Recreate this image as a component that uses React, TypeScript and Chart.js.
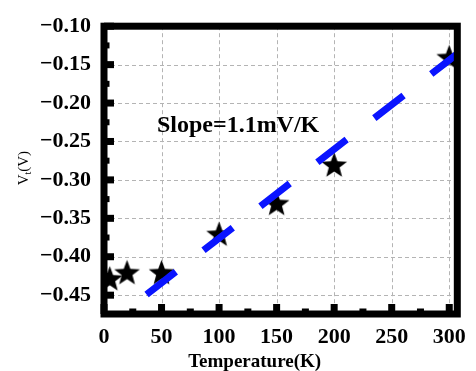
import React, { useEffect, useRef } from 'react';
import { Chart, registerables } from 'chart.js';

Chart.register(...registerables);

// ---- data ----
const temperatures = [5, 20, 50, 100, 150, 200, 300];
const thresholdVoltages = [-0.428, -0.42, -0.42, -0.37, -0.33, -0.28, -0.14];
const fitTemperatures = [37, 307];
const fitVoltages = [-0.449, -0.136];

const xMajorTicks = [0, 50, 100, 150, 200, 250, 300];
const xMinorTicks = [25, 75, 125, 175, 225, 275];
const xTickLabels = ['0', '50', '100', '150', '200', '250', '300'];
const yMajorTicks = [-0.45, -0.4, -0.35, -0.3, -0.25, -0.2, -0.15, -0.1];
const yMinorTicks = [-0.425, -0.375, -0.325, -0.275, -0.225, -0.175, -0.125];
const yTickLabels = ['−0.45', '−0.40', '−0.35', '−0.30', '−0.25', '−0.20', '−0.15', '−0.10'];

const X_MIN = 0;
const X_MAX = 307;
const Y_MIN = -0.4745;
const Y_MAX = -0.1;

const xTitle = 'Temperature(K)';
const slopeText = 'Slope=1.1mV/K';
const slopeAt = [46, -0.23];

const SERIF = '"Liberation Serif", "Times New Roman", serif';

function makeStar(R: number, ratio: number) {
  const size = Math.ceil(R * 2 + 2);
  const c = document.createElement('canvas');
  c.width = size;
  c.height = size;
  const g = c.getContext('2d')!;
  const cx = size / 2;
  const cy = size / 2 + R * 0.1;
  g.beginPath();
  for (let i = 0; i < 10; i++) {
    const r = i % 2 === 0 ? R : R * ratio;
    const a = -Math.PI / 2 + (i * Math.PI) / 5;
    const px = cx + r * Math.cos(a);
    const py = cy + r * Math.sin(a);
    if (i === 0) g.moveTo(px, py);
    else g.lineTo(px, py);
  }
  g.closePath();
  g.fillStyle = '#000';
  g.fill();
  return c;
}

const framePlugin = {
  id: 'framePlugin',
  beforeDatasetsDraw(chart: any) {
    const { ctx, chartArea: a, scales } = chart;
    const xs = scales.x;
    const ys = scales.y;
    ctx.save();
    ctx.strokeStyle = '#b4b4b4';
    ctx.lineWidth = 1;
    ctx.setLineDash([4, 3]);
    xMajorTicks.forEach((v) => {
      const px = Math.round(xs.getPixelForValue(v)) + 0.5;
      ctx.beginPath();
      ctx.moveTo(px, a.top);
      ctx.lineTo(px, a.bottom);
      ctx.stroke();
    });
    yMajorTicks.forEach((v) => {
      const py = Math.round(ys.getPixelForValue(v)) + 0.5;
      ctx.beginPath();
      ctx.moveTo(a.left, py);
      ctx.lineTo(a.right, py);
      ctx.stroke();
    });
    ctx.restore();
  },
  afterDatasetsDraw(chart: any) {
    const { ctx, chartArea: a, scales } = chart;
    const xs = scales.x;
    const ys = scales.y;
    ctx.save();
    ctx.fillStyle = '#000';
    // ticks (inward)
    xMajorTicks.forEach((v) => {
      const px = xs.getPixelForValue(v);
      ctx.fillRect(px - 3.5, a.bottom - 10, 7, 10);
    });
    xMinorTicks.forEach((v) => {
      const px = xs.getPixelForValue(v);
      ctx.fillRect(px - 3.5, a.bottom - 5.5, 7, 5.5);
    });
    yMajorTicks.forEach((v) => {
      const py = ys.getPixelForValue(v);
      ctx.fillRect(a.left, py - 3.5, 10, 7);
    });
    yMinorTicks.forEach((v) => {
      const py = ys.getPixelForValue(v);
      ctx.fillRect(a.left, py - 3, 5.5, 6);
    });
    // frame
    ctx.strokeStyle = '#000';
    ctx.lineWidth = 7;
    ctx.setLineDash([]);
    ctx.strokeRect(a.left, a.top, a.right - a.left, a.bottom - a.top);
    ctx.restore();
  },
  afterDraw(chart: any) {
    const { ctx, chartArea: a, scales } = chart;
    ctx.save();
    ctx.fillStyle = '#000';
    // slope annotation
    ctx.font = `bold 24px ${SERIF}`;
    ctx.textAlign = 'left';
    ctx.textBaseline = 'middle';
    ctx.fillText(slopeText, scales.x.getPixelForValue(slopeAt[0]), scales.y.getPixelForValue(slopeAt[1]));
    // x title
    ctx.font = `bold 19px ${SERIF}`;
    ctx.textAlign = 'center';
    ctx.textBaseline = 'middle';
    ctx.fillText(xTitle, (a.left + a.right) / 2 - 26, 362);
    // y title with subscript
    ctx.translate(24, (a.top + a.bottom) / 2 - 2);
    ctx.rotate(-Math.PI / 2);
    ctx.textBaseline = 'middle';
    ctx.textAlign = 'left';
    const big = `15px ${SERIF}`;
    const small = `10px ${SERIF}`;
    ctx.font = big;
    const wV = ctx.measureText('V').width;
    ctx.font = small;
    const wt = ctx.measureText('t').width;
    ctx.font = big;
    const wRest = ctx.measureText('(V)').width;
    const total = wV + wt + wRest;
    let x0 = -total / 2;
    ctx.fillText('V', x0, 0);
    x0 += wV;
    ctx.font = small;
    ctx.fillText('t', x0, 4);
    x0 += wt;
    ctx.font = big;
    ctx.fillText('(V)', x0, 0);
    ctx.restore();
  },
};

export default function App() {
  const ref = useRef<HTMLCanvasElement | null>(null);
  useEffect(() => {
    const star = makeStar(13.5, 0.42);
    const chart = new Chart(ref.current!, {
      type: 'scatter',
      data: {
        datasets: [
          {
            label: 'fit',
            data: fitTemperatures.map((t, i) => ({ x: t, y: fitVoltages[i] })),
            showLine: true,
            borderColor: '#0a14ff',
            borderWidth: 7,
            borderDash: [37, 35],
            borderCapStyle: 'butt',
            pointRadius: 0,
            order: 0,
          },
          {
            label: 'Vt',
            data: temperatures.map((t, i) => ({ x: t, y: thresholdVoltages[i] })),
            pointStyle: star as any,
            showLine: false,
            order: 1,
          },
        ],
      },
      options: {
        animation: false,
        responsive: false,
        events: [],
        layout: { padding: { top: 21, right: 11, left: 0, bottom: 0 } },
        plugins: { legend: { display: false }, tooltip: { enabled: false } },
        scales: {
          x: {
            type: 'linear',
            min: X_MIN,
            max: X_MAX,
            afterBuildTicks: (s: any) => {
              s.ticks = xMajorTicks.map((v) => ({ value: v }));
            },
            afterFit: (s: any) => {
              s.height = 57;
            },
            ticks: {
              autoSkip: false,
              maxRotation: 0,
              padding: 10,
              color: '#000',
              font: { family: SERIF, size: 22, weight: 'bold' },
              callback: (_v: any, i: number) => xTickLabels[i],
            },
            grid: { display: false, drawTicks: false },
            border: { display: false },
          },
          y: {
            type: 'linear',
            min: Y_MIN,
            max: Y_MAX,
            afterBuildTicks: (s: any) => {
              s.ticks = yMajorTicks.map((v) => ({ value: v }));
            },
            afterFit: (s: any) => {
              s.width = 104;
            },
            ticks: {
              autoSkip: false,
              padding: 13,
              color: '#000',
              font: { family: SERIF, size: 22, weight: 'bold' },
              callback: (_v: any, i: number) => yTickLabels[i],
            },
            grid: { display: false, drawTicks: false },
            border: { display: false },
          },
        },
      } as any,
      plugins: [framePlugin],
    });
    return () => chart.destroy();
  }, []);
  return (
    <div style={{ position: 'fixed', left: 0, top: 0, width: 476, height: 371, background: '#fff' }}>
      <canvas ref={ref} width={476} height={371} style={{ width: 476, height: 371, display: 'block' }} />
    </div>
  );
}
